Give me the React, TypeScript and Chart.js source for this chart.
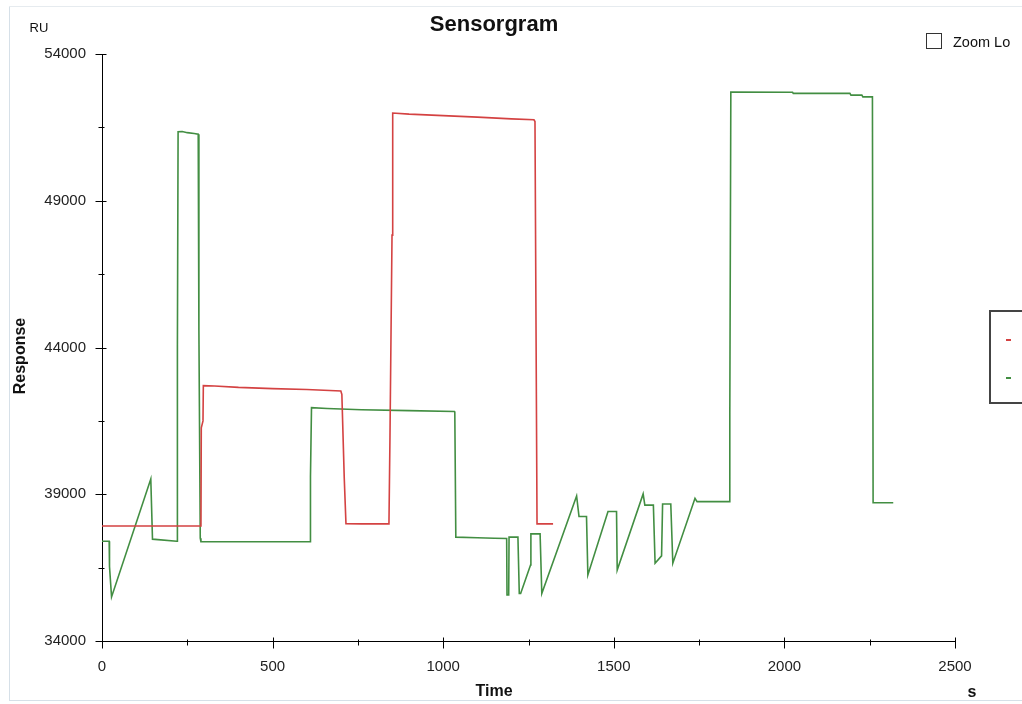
import { useEffect, useRef } from "react";
import { Chart, registerables } from "chart.js";

Chart.register(...registerables);

// Time (s) and response (RU) of the reference channel (red)
const redTime = [0, 290, 291, 296, 297, 330, 400, 500, 600, 700, 703, 710, 715, 760, 841, 844, 850, 852, 900, 1000, 1100, 1200, 1266, 1269, 1275, 1322];
const redValue = [37920, 37920, 41260, 41500, 42700, 42690, 42640, 42600, 42570, 42520, 42400, 39550, 38000, 37990, 37990, 40950, 47830, 51990, 51950, 51900, 51850, 51790, 51760, 51700, 37990, 37990];

// Time (s) and response (RU) of the sample channel (green)
const greenTime = [0, 20, 21, 22, 28, 143, 148, 219, 220, 221, 223, 235, 250, 270, 282, 284, 288, 290, 610, 611, 614, 660, 760, 900, 1033, 1034, 1037, 1100, 1150, 1186, 1187, 1192, 1193, 1219, 1223, 1227, 1256, 1257, 1284, 1289, 1391, 1398, 1420, 1424, 1483, 1508, 1510, 1586, 1591, 1616, 1621, 1640, 1643, 1667, 1673, 1738, 1744, 1838, 1840, 1843, 2024, 2026, 2192, 2195, 2227, 2230, 2258, 2260, 2319];
const greenValue = [37400, 37400, 37400, 36540, 35500, 39520, 37470, 37400, 37400, 44090, 51350, 51360, 51320, 51290, 51270, 44600, 37500, 37380, 37380, 39600, 41950, 41920, 41880, 41850, 41820, 41800, 37540, 37520, 37500, 37490, 35570, 35570, 37540, 37540, 35620, 35620, 36590, 37650, 37650, 35620, 38940, 38240, 38240, 36250, 38410, 38410, 36420, 39010, 38630, 38630, 36650, 36900, 38670, 38670, 36650, 38860, 38750, 38750, 41700, 52700, 52695, 52660, 52660, 52600, 52600, 52540, 52540, 38710, 38710];

const xTicks = [0, 500, 1000, 1500, 2000, 2500];
const xMinorTicks = [250, 750, 1250, 1750, 2250];
const yTicks = [34000, 39000, 44000, 49000, 54000];
const yMinorTicks = [36500, 41500, 46500, 51500];

const RED = "rgb(212,66,66)";
const GREEN = "rgb(66,142,66)";
const FONT = "'Liberation Sans', Arial, sans-serif";

const decorPlugin = {
  id: "decor",
  afterDraw(chart: any) {
    const { ctx, chartArea, scales } = chart;
    const xs = scales.x;
    const ys = scales.y;
    const bottom = Math.round(chartArea.bottom) + 0.5;
    const left = Math.round(chartArea.left) + 0.5;
    ctx.save();
    ctx.strokeStyle = "#000";
    ctx.lineWidth = 1;
    ctx.beginPath();
    for (const v of xTicks) {
      const p = Math.round(xs.getPixelForValue(v)) + 0.5;
      ctx.moveTo(p, bottom - 4);
      ctx.lineTo(p, bottom + 7);
    }
    for (const v of xMinorTicks) {
      const p = Math.round(xs.getPixelForValue(v)) + 0.5;
      ctx.moveTo(p, bottom - 2);
      ctx.lineTo(p, bottom + 4);
    }
    for (const v of yTicks) {
      const p = Math.round(ys.getPixelForValue(v)) + 0.5;
      ctx.moveTo(left - 7, p);
      ctx.lineTo(left + 4, p);
    }
    for (const v of yMinorTicks) {
      const p = Math.round(ys.getPixelForValue(v)) + 0.5;
      ctx.moveTo(left - 4, p);
      ctx.lineTo(left + 2, p);
    }
    ctx.stroke();

    ctx.fillStyle = "#111";
    ctx.textBaseline = "middle";
    ctx.textAlign = "center";
    ctx.font = `bold 22px ${FONT}`;
    ctx.fillText("Sensorgram", 494, 25);
    ctx.font = `bold 16px ${FONT}`;
    ctx.fillText("Time", 494, 692);
    ctx.fillText("s", 972, 693);
    ctx.font = `13px ${FONT}`;
    ctx.fillText("RU", 39, 28);
    ctx.save();
    ctx.translate(21, 356);
    ctx.rotate(-Math.PI / 2);
    ctx.font = `bold 16px ${FONT}`;
    ctx.fillText("Response", 0, 0);
    ctx.restore();
    ctx.restore();
  },
};

export default function App() {
  const canvasRef = useRef<HTMLCanvasElement | null>(null);

  useEffect(() => {
    const canvas = canvasRef.current;
    if (!canvas) return;
    const chart = new Chart(canvas, {
      type: "line",
      data: {
        datasets: [
          {
            label: "Fc=2",
            data: redTime.map((t, i) => ({ x: t, y: redValue[i] })),
            borderColor: RED,
            borderWidth: 1.6,
            pointRadius: 0,
            tension: 0,
            fill: false,
          },
          {
            label: "Fc=1",
            data: greenTime.map((t, i) => ({ x: t, y: greenValue[i] })),
            borderColor: GREEN,
            borderWidth: 1.6,
            pointRadius: 0,
            tension: 0,
            fill: false,
          },
        ],
      },
      options: {
        animation: false,
        responsive: false,
        maintainAspectRatio: false,
        events: [],
        layout: { padding: { left: 0, top: 54, right: 67, bottom: 0 } },
        plugins: {
          legend: { display: false },
          tooltip: { enabled: false },
          title: { display: false },
        },
        scales: {
          x: {
            type: "linear",
            min: 0,
            max: 2500,
            afterBuildTicks: (s: any) => {
              s.ticks = xTicks.map((v) => ({ value: v }));
            },
            afterFit: (s: any) => {
              s.height = 63;
            },
            grid: { display: false, drawTicks: false },
            border: { display: true, color: "#000", width: 1 },
            ticks: {
              padding: 17,
              autoSkip: false,
              maxRotation: 0,
              color: "#222",
              font: { family: FONT, size: 15 },
              callback: (v: any) => String(v),
            },
          },
          y: {
            type: "linear",
            min: 34000,
            max: 54000,
            afterBuildTicks: (s: any) => {
              s.ticks = yTicks.map((v) => ({ value: v }));
            },
            afterFit: (s: any) => {
              s.width = 102;
            },
            grid: { display: false, drawTicks: false },
            border: { display: true, color: "#000", width: 1 },
            ticks: {
              padding: 16,
              autoSkip: false,
              color: "#222",
              font: { family: FONT, size: 15 },
              callback: (v: any) => String(v),
            },
          },
        },
      },
      plugins: [decorPlugin],
    });
    return () => chart.destroy();
  }, []);

  return (
    <div
      style={{
        position: "fixed",
        left: 0,
        top: 0,
        width: 1022,
        height: 704,
        overflow: "hidden",
        background: "#fff",
      }}
    >
      <canvas ref={canvasRef} width={1022} height={704} style={{ display: "block", position: "absolute", left: 0, top: 0 }} />
      {/* panel borders */}
      <div style={{ position: "absolute", left: 9, top: 6, width: 1, height: 695, background: "#d6e0e8" }} />
      <div style={{ position: "absolute", left: 9, top: 6, width: 1013, height: 1, background: "#e6ebef" }} />
      <div style={{ position: "absolute", left: 9, top: 700, width: 1013, height: 1, background: "#d6e0e8" }} />
      {/* zoom lock */}
      <div style={{ position: "absolute", left: 926, top: 33, width: 14, height: 14, border: "1px solid #333", background: "#fff" }} />
      <div
        style={{
          position: "absolute",
          left: 953,
          top: 33,
          width: 57,
          height: 18,
          overflow: "hidden",
          whiteSpace: "nowrap",
          font: `14.5px ${FONT}`,
          color: "#111",
          lineHeight: "18px",
        }}
      >
        Zoom Lock
      </div>
      {/* legend box (clipped) */}
      <div style={{ position: "absolute", left: 989, top: 310, width: 100, height: 90, border: "2px solid #444", background: "#fff" }}>
        <div style={{ position: "absolute", left: 15, top: 27, width: 5, height: 2, background: RED }} />
        <div style={{ position: "absolute", left: 15, top: 65, width: 5, height: 2, background: GREEN }} />
      </div>
    </div>
  );
}
